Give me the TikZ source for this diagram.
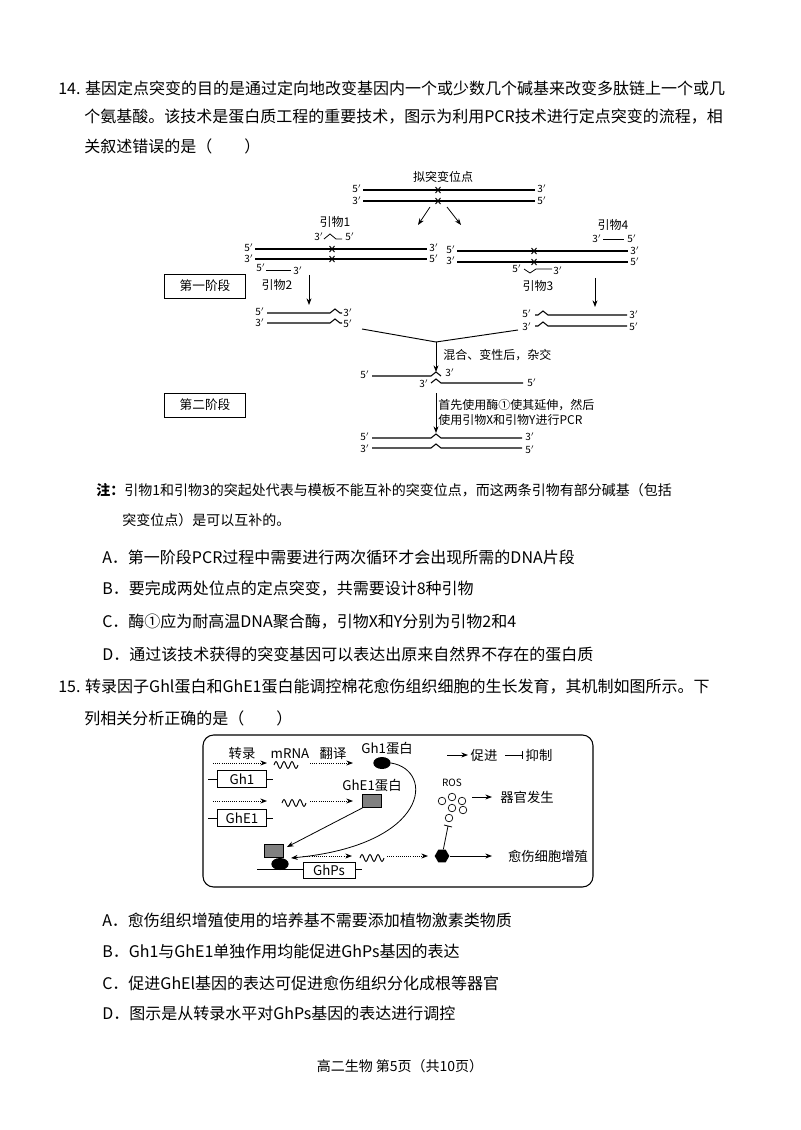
\documentclass[tikz,border=0pt]{standalone}
\usepackage{fontspec}
\setmainfont{Noto Sans CJK SC}
\usetikzlibrary{arrows.meta,shapes.geometric}
\begin{document}
\begin{tikzpicture}[x=0.75pt,y=-0.75pt,
  body/.style={anchor=west,inner sep=0,font=\fontsize{12}{14}\selectfont},
  note/.style={anchor=west,inner sep=0,font=\fontsize{10.5}{12}\selectfont},
  lab/.style={inner sep=0,font=\fontsize{9}{10}\selectfont},
  lab2/.style={inner sep=0,font=\fontsize{10}{11}\selectfont},
  sm/.style={inner sep=0,font=\fontsize{7.5}{8}\selectfont},
  strand/.style={line width=0.8pt},
  arr/.style={-{Stealth[length=5pt]},line width=0.6pt},
  darr/.style={densely dotted,-{Stealth[length=5pt]},line width=0.6pt},
  xmk/.style={line width=0.7pt}]
\useasboundingbox[fill=white] (0,0) rectangle (800,1130);
\newcommand\xm[2]{\draw[xmk] (#1-2.5,#2-3)--(#1+2.5,#2+3) (#1-2.5,#2+3)--(#1+2.5,#2-3);}
\newcommand\wave[3]{\draw[line width=0.7pt] (#1,#2) \foreach \i in {1,...,#3}{ sin ++(2,-3.5) cos ++(2,3.5) sin ++(2,3.5) cos ++(2,-3.5)};}
% Q14 text
\node[body] (q1) at (58,88) {14. 基因定点突变的目的是通过定向地改变基因内一个或少数几个碱基来改变多肽链上一个或几};
\node[body] (q2) at (84,117) {个氨基酸。该技术是蛋白质工程的重要技术，图示为利用PCR技术进行定点突变的流程，相};
\node[body] (q3) at (84,146) {关叙述错误的是（\quad\quad）};
% Diagram 1
\node[lab] (t0) at (443,177) {拟突变位点};
\draw[strand] (363,190)--(535,190); \draw[strand] (363,201)--(535,201);
\xm{438}{190}\xm{438}{201}
\node[sm] at (357,189) {5$'$};\node[sm] at (542,189) {3$'$};
\node[sm] at (357,201) {3$'$};\node[sm] at (542,201) {5$'$};
\draw[arr] (430,207)--(418,225); \draw[arr] (447,207)--(461,225);
% left template
\node[lab] (p1) at (335,222) {引物1};
\node[sm] at (319,237) {3$'$}; \node[sm] at (350,237) {5$'$};
\draw[line width=0.6pt] (324,239)--(330,234)--(336,239)--(342,239);
\draw[strand] (255,249)--(427,249); \draw[strand] (255,259)--(427,259);
\xm{332}{249}\xm{332}{259}
\node[sm] at (249,248) {5$'$};\node[sm] at (434,248) {3$'$};
\node[sm] at (249,259) {3$'$};\node[sm] at (434,259) {5$'$};
\node[sm] at (261,268) {5$'$};\draw[line width=0.6pt] (266,270)--(291,270);\node[sm] at (298,271) {3$'$};
\node[lab] (p2) at (277,285) {引物2};
% right template
\node[lab] (p4) at (613,225) {引物4};
\node[sm] at (597,239) {3$'$};\draw[line width=0.6pt] (603,239)--(624,239);\node[sm] at (632,239) {5$'$};
\draw[strand] (457,251)--(628,251); \draw[strand] (457,262)--(628,262);
\xm{534}{251}\xm{534}{262}
\node[sm] at (451,250) {5$'$};\node[sm] at (635,251) {3$'$};
\node[sm] at (451,261) {3$'$};\node[sm] at (635,262) {5$'$};
\node[sm] at (517,269) {5$'$};\draw[line width=0.6pt] (524,269)--(530,273)--(536,269)--(552,269);\node[sm] at (558,271) {3$'$};
\node[lab] (p3) at (538,286) {引物3};
\node[draw,line width=0.6pt,minimum width=61pt,minimum height=18pt,font=\fontsize{9.5}{10}\selectfont] (s1) at (205,286) {第一阶段};
\draw[arr] (309,275)--(309,305); \draw[arr] (595,278)--(595,307);
% products
\draw[strand] (267,313)--(330,313)--(335,309)--(340,313)--(342,313);
\draw[strand] (267,323)--(330,323)--(335,319)--(340,323)--(342,323);
\node[sm] at (260,312) {5$'$};\node[sm] at (348,313) {3$'$};
\node[sm] at (260,323) {3$'$};\node[sm] at (348,324) {5$'$};
\draw[strand] (535,315)--(538,315)--(543,311)--(548,315)--(627,315);
\draw[strand] (535,326)--(538,326)--(543,322)--(548,326)--(627,326);
\node[sm] at (527,314) {5$'$};\node[sm] at (634,315) {3$'$};
\node[sm] at (527,327) {3$'$};\node[sm] at (634,327) {5$'$};
\coordinate (v) at (436,342);
\draw[line width=0.7pt] (362,329)--(v)--(518,330);
\draw[arr] (v)--(436,372);
\node[lab,anchor=west] (t1) at (443,355) {混合、变性后，杂交};
% hybrid
\draw[strand] (372,376)--(431,376)--(436,372)--(441,376);
\node[sm] at (365,375) {5$'$};\node[sm] at (450,373) {3$'$};
\draw[strand] (431,383)--(436,379)--(441,383)--(523,383);
\node[sm] at (424,384) {3$'$};\node[sm] at (532,383) {5$'$};
\node[draw,line width=0.6pt,minimum width=61pt,minimum height=18pt,font=\fontsize{9.5}{10}\selectfont] (s2) at (205,405) {第二阶段};
\draw[arr] (436,393)--(436,433);
\node[lab,anchor=west] (t2) at (438,405) {首先使用酶①使其延伸，然后};
\node[lab,anchor=west] (t3) at (438,420) {使用引物X和引物Y进行PCR};
\draw[strand] (372,438)--(431,438)--(436,434)--(441,438)--(522,438);
\draw[strand] (372,448)--(431,448)--(436,444)--(441,448)--(522,448);
\node[sm] at (365,437) {5$'$};\node[sm] at (530,437) {3$'$};
\node[sm] at (365,449) {3$'$};\node[sm] at (530,450) {5$'$};
% note
\node[note] (n1) at (96,490) {\textbf{注：}引物1和引物3的突起处代表与模板不能互补的突变位点，而这两条引物有部分碱基（包括};
\node[note] (n2) at (122,520) {突变位点）是可以互补的。};
\node[body] (a14) at (102,557) {A．第一阶段PCR过程中需要进行两次循环才会出现所需的DNA片段};
\node[body] (b14) at (102,589) {B．要完成两处位点的定点突变，共需要设计8种引物};
\node[body] (c14) at (102,622) {C．酶①应为耐高温DNA聚合酶，引物X和Y分别为引物2和4};
\node[body] (d14) at (102,654) {D．通过该技术获得的突变基因可以表达出原来自然界不存在的蛋白质};
% Q15
\node[body] (q15a) at (58,687) {15. 转录因子Ghl蛋白和GhE1蛋白能调控棉花愈伤组织细胞的生长发育，其机制如图所示。下};
\node[body] (q15b) at (84,718) {列相关分析正确的是（\quad\quad）};
% Diagram 2
\draw[line width=0.8pt,rounded corners=8pt] (203,735) rectangle (593,887);
\node[lab2] at (242,753) {转录};\node[lab2] at (290,754) {mRNA};\node[lab2] at (333,753) {翻译};
\node[lab2] at (387,748) {Gh1蛋白};
\draw[darr] (213,763)--(267,763); \wave{274}{765}{3} \draw[darr] (310,763)--(353,763);
\node[ellipse,fill=black,minimum width=13pt,minimum height=9pt,inner sep=0] (gh1p) at (382,763) {};
\draw[line width=0.6pt] (208,779)--(273,779);
\node[draw,fill=white,line width=0.6pt,minimum width=37pt,minimum height=13pt,inner sep=0,font=\fontsize{10}{11}\selectfont] (gh1) at (242,779) {Gh1};
\draw[arr] (447,755)--(468,755);\node[lab2] at (484,755) {促进};
\draw[line width=0.6pt] (505,755)--(522,755) (522,751)--(522,759);\node[lab2] at (539,755) {抑制};
\node[lab2] at (372,785) {GhE1蛋白};
\draw[darr] (213,801)--(267,801); \wave{282}{803}{3} \draw[darr] (310,801)--(353,801);
\node[draw,fill=gray,minimum width=14pt,minimum height=10pt,inner sep=0] (ghe1p) at (372,801) {};
\draw[line width=0.6pt] (208,818)--(273,818);
\node[draw,fill=white,line width=0.6pt,minimum width=37pt,minimum height=13pt,inner sep=0,font=\fontsize{10}{11}\selectfont] (ghe1) at (242,818) {GhE1};
\node[sm] at (452,783) {ROS};
\foreach \p in {(442,801),(452,797),(462,801),(452,808),(463,810),(449,818)} \draw[line width=0.5pt] \p circle (3.8);
\draw[arr] (472,797)--(492,797); \node[lab2] (organ) at (527,797) {器官发生};
% GhPs
\draw[line width=0.6pt] (257,869)--(362,869);
\node[draw,fill=white,line width=0.6pt,minimum width=39pt,minimum height=12pt,inner sep=0,font=\fontsize{10}{11}\selectfont] (ghps) at (329,870) {GhPs};
\node[draw,fill=gray,minimum width=14pt,minimum height=10pt,inner sep=0] (cg) at (274,851) {};
\node[ellipse,fill=black,minimum width=13pt,minimum height=9pt,inner sep=0] (cb) at (280,864) {};
\draw[darr] (303,856)--(352,856); \wave{360}{858}{3} \draw[darr] (387,856)--(428,856);
\node[regular polygon,regular polygon sides=6,fill=black,minimum size=11pt,inner sep=0] (hex) at (442,856) {};
\draw[arr] (450,856)--(492,856); \node[lab2] (cal) at (548,856) {愈伤细胞增殖};
\draw[line width=0.6pt] (hex)--(448,826) (444,825)--(452,827);
\draw[arr] (gh1p.east) .. controls (435,770) and (430,845) .. (291,858);
\draw[arr] (ghe1p.south west) -- (287,847);
% options Q15
\node[body] (a15) at (102,920) {A．愈伤组织增殖使用的培养基不需要添加植物激素类物质};
\node[body] (b15) at (102,951) {B．Gh1与GhE1单独作用均能促进GhPs基因的表达};
\node[body] (c15) at (102,983) {C．促进GhEl基因的表达可促进愈伤组织分化成根等器官};
\node[body] (d15) at (102,1013) {D．图示是从转录水平对GhPs基因的表达进行调控};
\node[inner sep=0,font=\fontsize{10.5}{12}\selectfont] (ft) at (400,1066) {高二生物\ 第5页（共10页）};
\end{tikzpicture}
\end{document}
